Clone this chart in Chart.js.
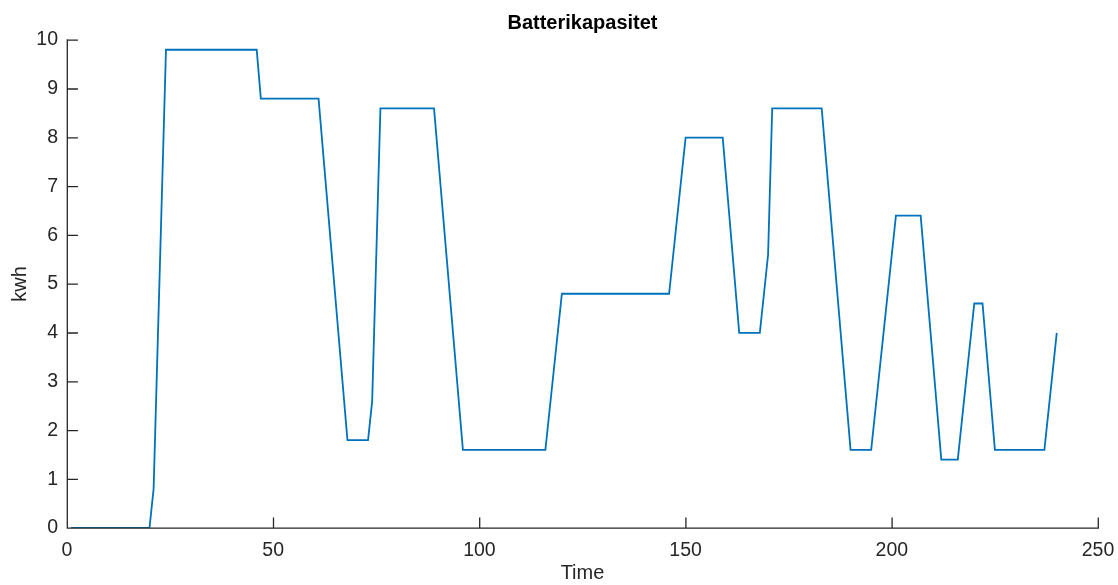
<!DOCTYPE html>
<html>
<head>
<meta charset="utf-8">
<title>Batterikapasitet</title>
<script src="https://cdn.jsdelivr.net/npm/chart.js@4.4.1/dist/chart.umd.min.js"></script>
<style>
  html, body { margin: 0; padding: 0; background: #ffffff; }
  #wrap { width: 1118px; height: 585px; }
</style>
</head>
<body>
<div id="wrap"><canvas id="chart" width="1118" height="585"></canvas></div>
<script>
// Battery state of charge (kWh) at the time steps where the curve changes slope
const timeSteps = [1, 20, 21, 24, 46, 47, 61, 68, 73, 74, 76, 89, 96, 116, 120, 146, 150, 159,
                   163, 168, 170, 171, 183, 190, 195, 201, 207, 212, 216, 220, 222, 225, 237, 240];
const capacityKwh = [0, 0, 0.8, 9.8, 9.8, 8.8, 8.8, 1.8, 1.8, 2.6, 8.6, 8.6, 1.6, 1.6, 4.8, 4.8, 8.0, 8.0,
                     4.0, 4.0, 5.6, 8.6, 8.6, 1.6, 1.6, 6.4, 6.4, 1.4, 1.4, 4.6, 4.6, 1.6, 1.6, 4.0];

const xTickValues = [0, 50, 100, 150, 200, 250];
const yTickValues = [0, 1, 2, 3, 4, 5, 6, 7, 8, 9, 10];

const titleText = 'Batterikapasitet';
const xTitle = 'Time';
const yTitle = 'kwh';

const axisColor = '#262626';
const lineColor = '#0072BD';
const fontFamily = '"Liberation Sans", Arial, Helvetica, sans-serif';

const points = timeSteps.map((t, i) => ({ x: t, y: capacityKwh[i] }));

// Left and bottom axis lines with MATLAB-style tick marks pointing into the plot
const innerAxes = {
  id: 'innerAxes',
  afterDraw(chart) {
    const { ctx, scales: { x, y } } = chart;
    const left = x.getPixelForValue(0) + 0.3;
    const right = x.getPixelForValue(250) + 0.3;
    const top = y.getPixelForValue(10);
    const bottom = y.getPixelForValue(0) + 0.2;
    ctx.save();
    ctx.strokeStyle = axisColor;
    ctx.lineWidth = 1.3;
    ctx.lineCap = 'square';
    ctx.beginPath();
    ctx.moveTo(left, top);
    ctx.lineTo(left, bottom);
    ctx.lineTo(right, bottom);
    xTickValues.forEach(v => {
      const px = x.getPixelForValue(v) + 0.3;
      ctx.moveTo(px, bottom);
      ctx.lineTo(px, bottom - 10);
    });
    yTickValues.forEach(v => {
      const py = y.getPixelForValue(v) + 0.2;
      ctx.moveTo(left, py);
      ctx.lineTo(left + 10, py);
    });
    ctx.stroke();
    ctx.restore();
  }
};

new Chart(document.getElementById('chart'), {
  type: 'line',
  data: {
    datasets: [{
      data: points,
      borderColor: lineColor,
      borderWidth: 1.8,
      pointRadius: 0,
      tension: 0,
      fill: false
    }]
  },
  options: {
    responsive: false,
    animation: false,
    layout: { padding: { top: 0, right: 20, bottom: 0, left: 0 } },
    plugins: {
      legend: { display: false },
      tooltip: { enabled: false },
      title: {
        display: true,
        text: titleText,
        fullSize: false,
        color: '#000000',
        font: { family: fontFamily, size: 20, weight: 'bold', lineHeight: 1.2 },
        padding: { top: 11, bottom: 5 }
      }
    },
    scales: {
      x: {
        type: 'linear',
        min: 0,
        max: 250,
        afterFit(scale) {
          scale.height = 57;
          scale.paddingLeft = 0;
          scale.paddingRight = 0;
        },
        afterBuildTicks(scale) { scale.ticks = xTickValues.map(v => ({ value: v })); },
        grid: { display: false, drawTicks: false },
        border: { display: false },
        ticks: {
          color: axisColor,
          padding: 11,
          maxRotation: 0,
          font: { family: fontFamily, size: 19.5 }
        },
        title: {
          display: true,
          text: xTitle,
          color: axisColor,
          padding: { top: 0, bottom: 0 },
          font: { family: fontFamily, size: 20, lineHeight: 1.2 }
        }
      },
      y: {
        type: 'linear',
        min: 0,
        max: 10,
        afterFit(scale) {
          scale.width = 67;
          scale.paddingTop = 0;
          scale.paddingBottom = 0;
        },
        afterBuildTicks(scale) { scale.ticks = yTickValues.map(v => ({ value: v })); },
        grid: { display: false, drawTicks: false },
        border: { display: false },
        ticks: {
          color: axisColor,
          padding: 9,
          font: { family: fontFamily, size: 19.5 }
        },
        title: {
          display: true,
          text: yTitle,
          color: axisColor,
          padding: { top: 8, bottom: 0 },
          font: { family: fontFamily, size: 20, lineHeight: 1.2 }
        }
      }
    }
  },
  plugins: [innerAxes]
});
</script>
</body>
</html>
